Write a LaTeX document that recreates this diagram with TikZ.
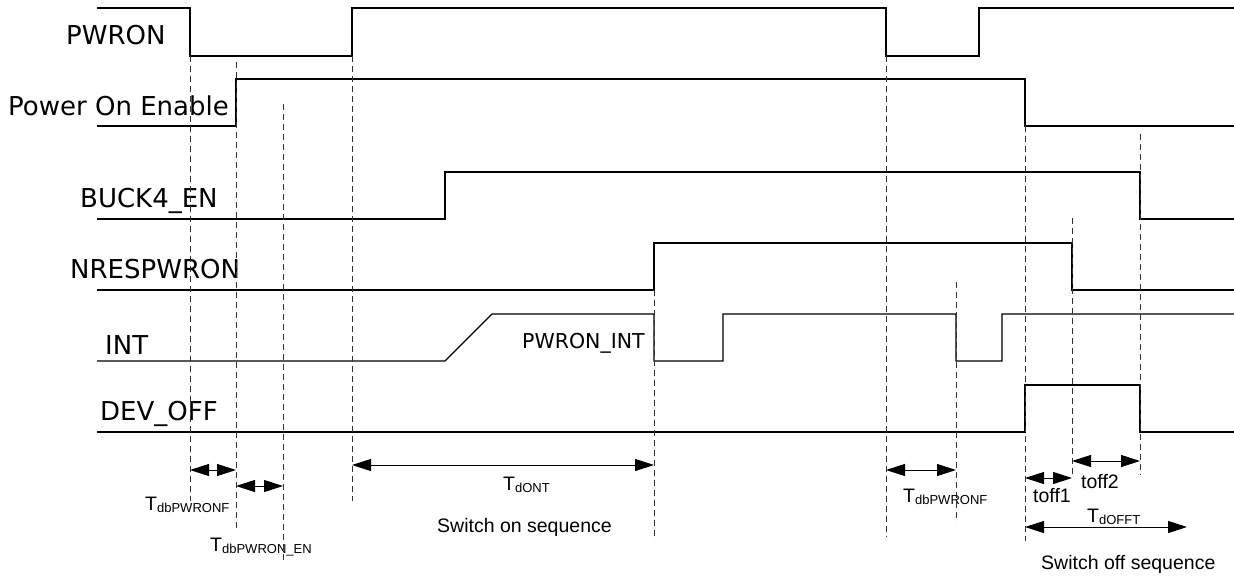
\documentclass[tikz,border=0pt]{standalone}
\usepackage{fontspec}
\setmainfont{DejaVu Sans}
\newfontfamily\arialf{Liberation Sans}
\usetikzlibrary{arrows.meta}
\newcommand{\subtxt}[1]{\raisebox{-2.5pt}{\fontsize{13}{15}\selectfont #1}}
\begin{document}
\begin{tikzpicture}[x=1pt,y=-1pt,
  sig/.style={line width=1.2pt, line join=miter},
  guide/.style={line width=1pt, dash pattern=on 6pt off 4pt, draw=black!80},
  dim/.style={line width=1pt, {Triangle[length=19pt,width=12pt]}-{Triangle[length=19pt,width=12pt]}},
  lbl/.style={font=\fontsize{26}{30}\selectfont, inner sep=0pt, anchor=base west},
  smlbl/.style={font=\fontsize{20.5}{24}\selectfont, inner sep=0pt, anchor=base west},
  tlbl/.style={font=\arialf\fontsize{19.5}{22}\selectfont, inner sep=0pt, anchor=base west},
]
\useasboundingbox (0,0) rectangle (1234,576);

% signal labels
\node[lbl] (lpwron) at (66,44) {PWRON};
\node[lbl] (lpoe) at (8,115) {Power On Enable};
\node[lbl] (lbuck) at (80,207) {BUCK4\_EN};
\node[lbl] (lnres) at (70,278) {NRESPWRON};
\node[lbl] (lint) at (105,354) {INT};
\node[lbl] (ldev) at (100,420) {DEV\_OFF};
\node[smlbl] (lpwint) at (522,348) {PWRON\_INT};

% signals
\draw[sig] (97,8) -- (190,8) -- (190,56) -- (352,56) -- (352,8) -- (886,8) -- (886,56) -- (979,56) -- (979,8) -- (1234,8);
\draw[sig] (97,126) -- (236,126) -- (236,79) -- (1025,79) -- (1025,126) -- (1234,126);
\draw[sig] (97,219) -- (445,219) -- (445,172) -- (1140,172) -- (1140,219) -- (1234,219);
\draw[sig] (97,290) -- (654,290) -- (654,243) -- (1072,243) -- (1072,290) -- (1234,290);
\draw[sig] (97,361) -- (445,361) -- (492,314) -- (654,314) -- (654,361) -- (723,361) -- (723,314) -- (956,314) -- (956,361) -- (1002,361) -- (1002,314) -- (1234,314);
\draw[sig] (97,432) -- (1025,432) -- (1025,385) -- (1140,385) -- (1140,432) -- (1234,432);

% guide coordinates
\coordinate (a1) at (190,56);  \coordinate (a2) at (190,501);
\coordinate (b1) at (236,62);  \coordinate (b2) at (236,529);
\coordinate (c1) at (283,104); \coordinate (c2) at (283,560);
\coordinate (d1) at (352,56);  \coordinate (d2) at (352,501);
\coordinate (e1) at (654,290); \coordinate (e2) at (654,540);
\coordinate (f1) at (886,56);  \coordinate (f2) at (886,537);
\coordinate (g1) at (956,282); \coordinate (g2) at (956,522);
\coordinate (h1) at (1025,126);\coordinate (h2) at (1025,541);
\coordinate (i1) at (1072,218);\coordinate (i2) at (1072,475);
\coordinate (j1) at (1140,134);\coordinate (j2) at (1140,475);
\foreach \p in {a,b,c,d,e,f,g,h,i,j} \draw[guide] (\p1) -- (\p2);

% dimension arrows
\draw[dim] (190,470) -- (236,470);
\draw[dim] (236,486) -- (283,486);
\draw[dim] (352,465) -- (654,465);
\draw[dim] (886,470) -- (956,470);
\draw[dim] (1025,478) -- (1072,478);
\draw[dim] (1072,461) -- (1140,461);
\coordinate (offend) at (1187,527);
\draw[dim] (1025,527) -- (offend);

% timing labels
\node[tlbl] (t1) at (145,510) {T\subtxt{dbPWRONF}};
\node[tlbl] (t2) at (210,551) {T\subtxt{dbPWRON\_EN}};
\node[tlbl] (t3) at (503,490) {T\subtxt{dONT}};
\node[tlbl] (t4) at (903,502) {T\subtxt{dbPWRONF}};
\node[tlbl] (t5) at (1033,502) {toff1};
\node[tlbl] (t6) at (1081,488) {toff2};
\node[tlbl] (t7) at (1087,522) {T\subtxt{dOFFT}};
\node[tlbl] (s1) at (437,532) {Switch on sequence};
\node[tlbl] (s2) at (1041,569) {Switch off sequence};
\end{tikzpicture}
\end{document}
